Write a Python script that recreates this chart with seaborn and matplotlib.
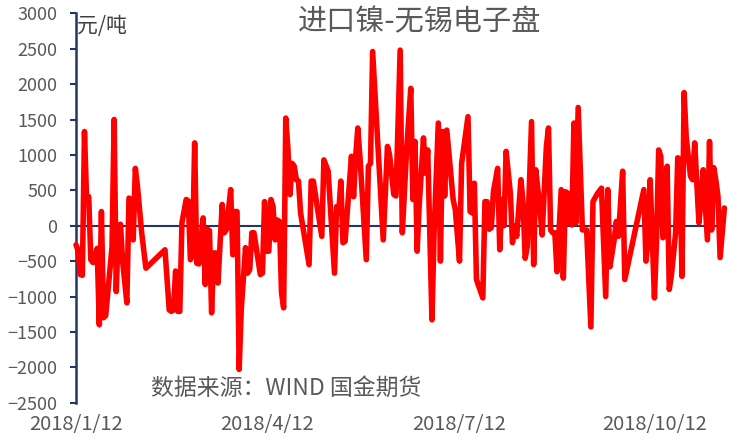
import numpy as np
import pandas as pd
import matplotlib
matplotlib.use("Agg")
import matplotlib.pyplot as plt
import seaborn as sns

# ---- data ----
start_date = "2018-01-12"
day_offsets = [
    0, 1, 2, 3, 4, 5, 6, 7, 8, 10, 11, 12, 13, 14, 17, 18, 19, 20, 21, 22,
    24, 25, 26, 27, 28, 29, 31, 33,
    42, 44, 45, 46, 47, 48, 49, 50, 52, 53, 54, 55, 56, 57, 58, 59, 60, 61,
    62, 63, 64, 65, 66, 67, 69, 70, 71, 73, 74, 75, 76, 77, 78, 80, 81, 82,
    83, 84, 87, 88, 89, 90, 91, 92, 93, 94, 95, 96, 97, 98, 99, 100, 101,
    102, 103, 104, 105, 106, 110, 111, 112, 116, 117, 119, 122, 123, 124,
    125, 126, 127, 130, 131, 132, 133, 134, 137, 138, 139, 140,
    145, 147, 148, 150, 151, 153, 154, 156, 158, 159, 160, 161, 162, 164,
    165, 166, 168, 169, 171, 172, 173, 174, 175, 178, 179, 181, 182, 185,
    186, 187, 188, 189, 192, 193, 194, 195, 196, 197, 199, 200, 201, 202,
    203, 205, 206, 207, 208, 210, 211, 212, 213, 215, 216, 217, 219, 220,
    222, 223, 224, 225, 226, 227, 229, 230, 231, 232, 233, 234, 235, 236,
    237, 239, 241, 243, 244, 246, 248, 250, 251, 252, 254, 255, 256, 258,
    259,
    268, 269, 270, 271, 273, 274, 275, 276, 277, 279, 280, 281, 283, 284,
    285, 286, 287, 288, 290, 291, 292, 294, 295, 296, 298, 299, 300, 301,
    302, 303, 304, 306,
]
values = [
    -270, -350, -690, -700, 1330, 370, 410, -480, -520, -320, -1400, 200,
    -1300, -1270, -300, 1500, -930, 0, 20, -500,
    -1090, 390, 370, -200, 810, 560, -100, -600,
    -340, -1190, -1210, -1190, -640, -1210, -1210, 40, 370, 350, -480, -390,
    1170, -530, -540, -200, 110, -830,
    -50, -70, -1230, -385, -385, -810, 300, -100, -50, 510, -410, 200, 200,
    -2030, -1180, -310, -670, -620,
    -100, -100, -690, -670, 340, -360, -360, 370, 270, -200, 80, 60, -950,
    -1160, 1520, 1100, 440,
    880, 840, 650, 630, 180, -550, 630, 630, -150, 930, 770, -670, 270, 180,
    630, -240, -220, 980, 410, 980, 1380, 980, -480, 840, 880, 2460,
    -200, 1120, 1000, 440, 420, 2480, -100, 1050, 1940, 370, 1190, -360, 300,
    1240,
    740, 1070, -1330, -100, 1450, -500, 1330, 420, 1350, 370, 230, -500, 880,
    1540,
    200, 180, 600, -760, -1020, 340, 340, -50, -30, 480, 810, -340, 370, 0,
    1050, 460, -240, 0, -150, 650, 320, -460, -290, 1470, -550, 790, 230,
    -130,
    1120, 1380, -60, -100, -100, -650, 510, -740, 480, 460, 40, 10, 1450,
    40,
    1670, -60, -60, -1430, 340, 450, 530, -1000, 510, -580, -200, 60, -150,
    770, -760,
    510, -500, -200, 650, -1020, -200, 1070, 980, -170, 840, -900, -700,
    -100, 960, 930, -715, 1880, 1250, 700, 650, 1170, 40, 370, 790, -200,
    1190, -60, 820, 640, 410, -450, 250,
]
y_ticks = [-2500, -2000, -1500, -1000, -500, 0, 500, 1000, 1500, 2000, 2500, 3000]
x_tick_dates = ["2018-01-12", "2018-04-12", "2018-07-12", "2018-10-12"]
x_tick_labels = ["2018/1/12", "2018/4/12", "2018/7/12", "2018/10/12"]
x_end_date = "2018-11-11"
title = "进口镍-无锡电子盘"
unit = "元/吨"
source = "数据来源：WIND 国金期货"

dates = pd.Timestamp(start_date) + pd.to_timedelta(day_offsets, unit="D")
df = pd.DataFrame({"date": dates, "value": values})

# ---- style ----
sns.set_style("white")
plt.rcParams["font.family"] = ["Noto Sans CJK SC", "DejaVu Sans"]
plt.rcParams["axes.unicode_minus"] = True

navy = "#1F3864"
gray = "#595959"

fig = plt.figure(figsize=(7.39, 4.41), dpi=100)
ax = fig.add_axes([76 / 739, 1 - 402.7 / 441, (718 - 76) / 739, (402.7 - 13.3) / 441])

sns.lineplot(data=df, x="date", y="value", ax=ax, color="#FF0000",
             linewidth=4.0, zorder=3)
for ln in ax.get_lines():
    ln.set_clip_on(False)
    ln.set_solid_joinstyle("round")
    ln.set_solid_capstyle("round")
ax.axhline(0, color=navy, linewidth=1.5, zorder=2)

ax.set_ylim(-2500, 3000)
ax.set_xlim(pd.Timestamp(start_date), pd.Timestamp(x_end_date))
ax.set_yticks(y_ticks)
ax.set_xticks(pd.to_datetime(x_tick_dates))
ax.set_xticklabels(x_tick_labels)
ax.set_xlabel("")
ax.set_ylabel("")

for s in ["top", "right", "bottom"]:
    ax.spines[s].set_visible(False)
ax.spines["left"].set_color(navy)
ax.spines["left"].set_linewidth(1.8)

ax.tick_params(axis="y", which="both", left=True, length=4.5, width=1.5,
               color=navy, labelcolor=gray, labelsize=13, pad=9, direction="out")
ax.tick_params(axis="x", which="both", bottom=False, length=0,
               labelcolor=gray, labelsize=14.5, pad=8)
ax.grid(False)

fig.text(420 / 739, 1 - 22 / 441, title, ha="center", va="center",
         fontsize=21, color=gray)
fig.text(77 / 739, 1 - 26 / 441, unit, ha="left", va="center",
         fontsize=15, color="#404040")
fig.text(151 / 739, 1 - 388 / 441, source, ha="left", va="center",
         fontsize=16.5, color=gray)

fig.savefig("out.png", dpi=100)
